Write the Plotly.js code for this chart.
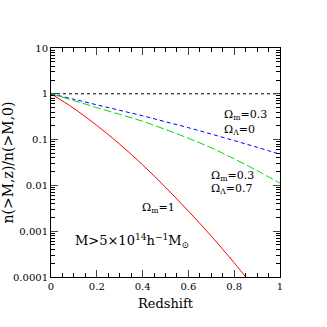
<!DOCTYPE html>
<html>
<head>
<meta charset="utf-8">
<script src="https://cdn.plot.ly/plotly-3.0.1.min.js"></script>
<style>
  html, body { margin: 0; padding: 0; background: #fff; }
  #chart { width: 327px; height: 327px; }
</style>
</head>
<body>
<div id="chart"></div>
<script>
// Redshift grid and the number-density ratios
const redshift = [0, 0.1, 0.2, 0.3, 0.4, 0.5, 0.6, 0.7, 0.8, 0.9, 1.0];
const openNoLambda = [1, 0.76, 0.575, 0.436, 0.331, 0.245, 0.182, 0.132, 0.095, 0.068, 0.048];
const flatLambda = [1, 0.71, 0.50, 0.355, 0.251, 0.166, 0.107, 0.066, 0.038, 0.021, 0.0112];
const redshiftEdS = [0, 0.1, 0.2, 0.3, 0.4, 0.5, 0.6, 0.7, 0.8, 0.86];
const einsteinDeSitter = [1, 0.479, 0.204, 0.0794, 0.0282, 0.0091, 0.00275, 0.00078, 0.000204, 0.000087];

const yTickVals = [10, 1, 0.1, 0.01, 0.001, 0.0001];
const yTickText = ['10', '1', '0.1', '0.01', '0.001', '0.0001'];

// minor ticks 2..9 in every decade
const yMinorVals = [];
for (let e = -4; e < 1; e++) {
    for (let m = 2; m <= 9; m++) yMinorVals.push(m * Math.pow(10, e));
}

const serif = 'DejaVu Serif, Liberation Serif, serif';

const traces = [
    {
        x: [0, 1], y: [1, 1], mode: 'lines', type: 'scatter',
        line: { color: 'black', width: 1, dash: 'dot' }
    },
    {
        x: redshift, y: openNoLambda, mode: 'lines', type: 'scatter',
        line: { color: 'blue', width: 1, dash: '4px,3px', shape: 'spline' }
    },
    {
        x: redshift, y: flatLambda, mode: 'lines', type: 'scatter',
        line: { color: '#00dd00', width: 1, dash: '8px,3px', shape: 'spline' }
    },
    {
        x: redshiftEdS, y: einsteinDeSitter, mode: 'lines', type: 'scatter',
        line: { color: 'red', width: 1, shape: 'spline' }
    }
];

// small helper for the curve labels
function label(x, y, text, size) {
    return { x: x, y: Math.log10(y), text: text, showarrow: false, xanchor: 'left',
             font: { family: serif, size: size || 11, color: 'black' } };
}

const layout = {
    width: 327,
    height: 327,
    margin: { l: 51, r: 47, t: 48, b: 50 },
    paper_bgcolor: 'white',
    plot_bgcolor: 'white',
    showlegend: false,
    font: { family: serif, size: 10, color: 'black' },
    xaxis: {
        range: [0, 1],
        dtick: 0.2,
        ticks: 'inside',
        ticklen: 7,
        tickwidth: 1,
        showline: true,
        linecolor: 'black',
        linewidth: 1,
        mirror: 'allticks',
        showgrid: false,
        zeroline: false,
        minor: { dtick: 0.05, ticks: 'inside', ticklen: 4, tickcolor: 'black', showgrid: false },
        tickfont: { family: serif, size: 10 },
        title: { text: 'Redshift', font: { family: serif, size: 13 }, standoff: 7 }
    },
    yaxis: {
        type: 'log',
        range: [-4, 1],
        tickvals: yTickVals,
        ticktext: yTickText,
        ticks: 'inside',
        ticklen: 7,
        tickwidth: 1,
        showline: true,
        linecolor: 'black',
        linewidth: 1,
        mirror: 'allticks',
        showgrid: false,
        zeroline: false,
        minor: { tickmode: 'array', tickvals: yMinorVals, ticks: 'inside', ticklen: 4, tickcolor: 'black', showgrid: false },
        tickfont: { family: serif, size: 10 },
        title: { text: 'n(>M,z)/n(>M,0)', font: { family: serif, size: 14 }, standoff: 4 }
    },
    annotations: [
        label(0.745, 0.35, 'Ω<sub>m</sub>=0.3'),
        label(0.745, 0.16, 'Ω<sub>Λ</sub>=0'),
        label(0.69, 0.016, 'Ω<sub>m</sub>=0.3'),
        label(0.69, 0.0083, 'Ω<sub>Λ</sub>=0.7'),
        label(0.39, 0.0032, 'Ω<sub>m</sub>=1'),
        label(0.095, 0.0006, 'M>5×10<sup>14</sup>h<sup>−1</sup>M<sub>⊙</sub>', 13)
    ]
};

Plotly.newPlot('chart', traces, layout, { staticPlot: true, displayModeBar: false });
</script>
</body>
</html>
